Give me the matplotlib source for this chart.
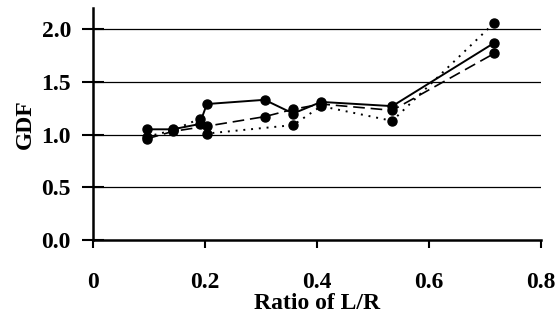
import matplotlib.pyplot as plt

# Values
solid_x = [0.096, 0.142, 0.19, 0.203, 0.306, 0.357, 0.407, 0.534, 0.716]
solid_y = [1.05, 1.05, 1.10, 1.29, 1.33, 1.20, 1.31, 1.27, 1.87]

dashed_x = [0.096, 0.142, 0.203, 0.306, 0.357, 0.407, 0.534, 0.716]
dashed_y = [0.96, 1.03, 1.08, 1.17, 1.24, 1.29, 1.23, 1.77]

dotted_x = [0.096, 0.142, 0.19, 0.203, 0.357, 0.407, 0.534, 0.716]
dotted_y = [0.98, 1.04, 1.15, 1.01, 1.09, 1.27, 1.13, 2.06]

x_ticks = [0, 0.2, 0.4, 0.6, 0.8]
x_labels = ['0', '0.2', '0.4', '0.6', '0.8']
y_ticks = [0.0, 0.5, 1.0, 1.5, 2.0]
y_labels = ['0.0', '0.5', '1.0', '1.5', '2.0']

plt.rcParams['font.family'] = ['Liberation Serif', 'DejaVu Serif']
plt.rcParams['font.weight'] = 'bold'

fig = plt.figure(figsize=(5.58, 3.26), dpi=100)
ax = fig.add_axes([0.167, 0.264, 0.803, 0.711])

# grid lines
for y in y_ticks[1:]:
    ax.axhline(y, color='black', linewidth=0.9, zorder=1)

ax.plot(solid_x, solid_y, color='black', linestyle='-', linewidth=1.4,
        marker='o', markersize=6.5, zorder=3)
ax.plot(dashed_x, dashed_y, color='black', linestyle=(0, (7, 3.5)), linewidth=1.2,
        marker='o', markersize=6.5, zorder=3)
ax.plot(dotted_x, dotted_y, color='black', linestyle=(0, (1, 3)), linewidth=1.4,
        marker='o', markersize=6.5, zorder=3)

ax.set_xlim(0, 0.8)
ax.set_ylim(0, 2.2)
ax.set_xticks(x_ticks)
ax.set_xticklabels(x_labels, fontsize=17, fontweight='bold')
ax.set_yticks(y_ticks)
ax.set_yticklabels(y_labels, fontsize=17, fontweight='bold')

ax.spines['top'].set_visible(False)
ax.spines['right'].set_visible(False)
ax.spines['left'].set_linewidth(1.8)
ax.spines['bottom'].set_linewidth(1.8)
ax.tick_params(axis='y', direction='inout', length=16, width=1.5, pad=8)
ax.tick_params(axis='x', direction='out', length=6, width=1.5, pad=17)

ax.set_xlabel('Ratio of L/R', fontsize=17, fontweight='bold', labelpad=0)
ax.set_ylabel('GDF', fontsize=17, fontweight='bold', labelpad=4)

plt.savefig('out.png', dpi=100)
plt.close()
